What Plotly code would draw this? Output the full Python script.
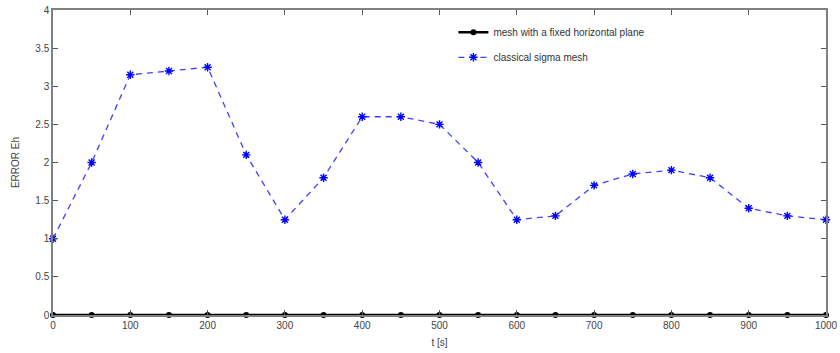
import plotly.graph_objects as go

t = [0, 50, 100, 150, 200, 250, 300, 350, 400, 450, 500, 550, 600, 650, 700, 750, 800, 850, 900, 950, 1000]
fixed_plane = [0] * 21
sigma_mesh = [1.0, 2.0, 3.15, 3.2, 3.25, 2.1, 1.25, 1.8, 2.6, 2.6, 2.5, 2.0, 1.25, 1.3, 1.7, 1.85, 1.9, 1.8, 1.4, 1.3, 1.25]
x_ticks = [0, 100, 200, 300, 400, 500, 600, 700, 800, 900, 1000]
y_ticks = [0, 0.5, 1, 1.5, 2, 2.5, 3, 3.5, 4]

FONT = "Liberation Sans, Arial"
fig = go.Figure()
fig.add_trace(go.Scatter(x=t, y=fixed_plane, mode="lines+markers", name="mesh with a fixed horizontal plane",
                         line=dict(color="black", width=2.5), marker=dict(symbol="circle", size=6, color="black"),
                         cliponaxis=False, legend="legend", showlegend=True))
fig.add_trace(go.Scatter(x=t, y=sigma_mesh, mode="lines+markers", name="classical sigma mesh",
                         line=dict(color="#4040ff", width=1.3, dash="6px,5px"),
                         marker=dict(symbol="asterisk-open", size=7, color="blue", line=dict(color="blue", width=1.4)),
                         cliponaxis=False, legend="legend2", showlegend=True))

axis_common = dict(showgrid=False, zeroline=False, showline=True, linecolor="#808080", linewidth=1.5,
                   mirror="ticks", ticks="inside", ticklen=5, tickcolor="#555", automargin=False,
                   tickfont=dict(family=FONT, size=10, color="#444"))
fig.update_xaxes(range=[0, 1000], tickvals=x_ticks, ticktext=[str(v) for v in x_ticks],
                 title=dict(text="t [s]", font=dict(family=FONT, size=10, color="#444"), standoff=9),
                 **axis_common)
fig.update_yaxes(range=[0, 4], tickvals=y_ticks, ticktext=[("%g" % v) for v in y_ticks],
                 title=dict(text="ERROR Eh", font=dict(family=FONT, size=10, color="#444"), standoff=14),
                 **axis_common)

leg = dict(xanchor="left", yanchor="middle", bgcolor="rgba(0,0,0,0)", visible=True,
           font=dict(family=FONT, size=10, color="#333"), itemwidth=30)
fig.update_layout(width=840, height=353, margin=dict(l=53, r=14, t=10, b=38),
                  plot_bgcolor="white", paper_bgcolor="white", showlegend=True,
                  legend=dict(x=0.518, y=0.927, **leg),
                  legend2=dict(x=0.518, y=0.845, **leg))

fig.write_html("out.html")
